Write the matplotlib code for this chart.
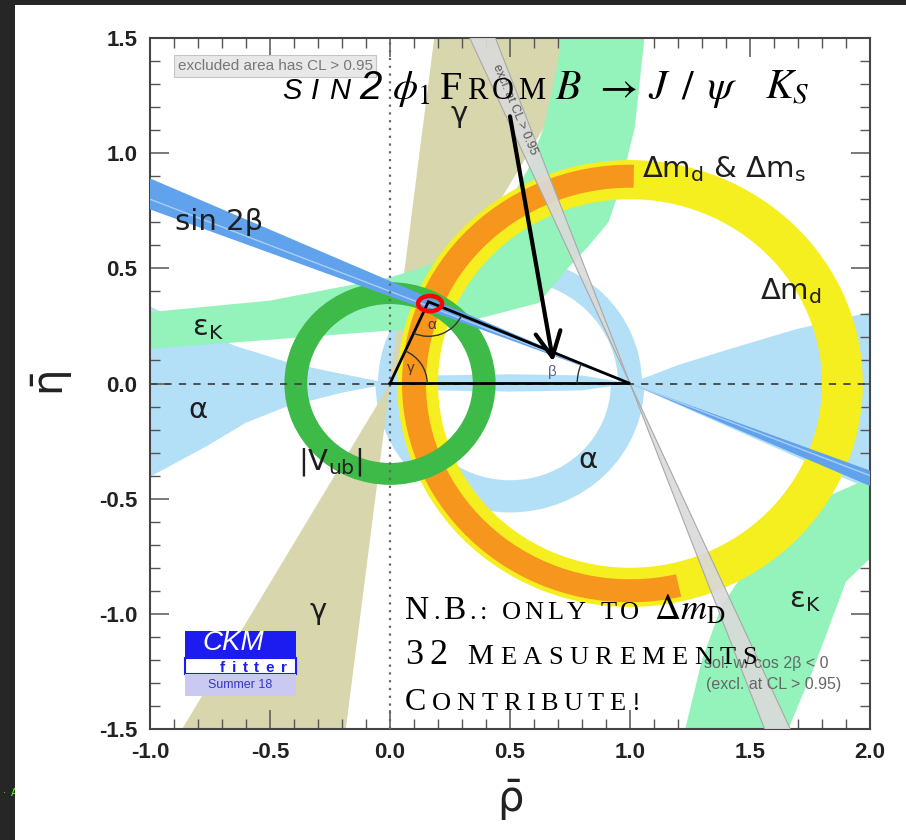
import matplotlib
matplotlib.use("Agg")
import numpy as np
import matplotlib.pyplot as plt
from matplotlib.patches import Arc, Ellipse, Polygon, Rectangle, Wedge

plt.rcParams["font.family"] = ["Liberation Sans", "DejaVu Sans"]
plt.rcParams["mathtext.fontset"] = "custom"
plt.rcParams["mathtext.rm"] = "DejaVu Sans"
plt.rcParams["mathtext.it"] = "DejaVu Sans:italic"
plt.rcParams["mathtext.bf"] = "DejaVu Sans:bold"

x_ticks = [-1.0, -0.5, 0.0, 0.5, 1.0, 1.5, 2.0]
y_ticks = [-1.5, -1.0, -0.5, 0.0, 0.5, 1.0, 1.5]

apex = (0.16, 0.355)

# angular bands: vertex and angle range in degrees
gamma_vertex, gamma_angles = (0.0, 0.0), (60.0, 83.0)
excl_vertex, excl_angles = (1.0, 0.0), (110.5, 114.0)
sin2b_vertex, sin2b_angles = (1.0, 0.0), (156.0, 159.3)
sin2b_split = 158.2

# ring bands: centre, (inner, outer) radius
vub_center, vub_radii = (0.0, 0.0), (0.345, 0.44)
dmd_center, dmd_radii = (1.0, 0.0), (0.80, 0.97)
dms_center, dms_radii, dms_angles = (1.0, 0.0), (0.85, 0.95), (89.0, 283.0)
alpha_center = (0.5, 0.0)
alpha_up_radii, alpha_low_radii = (0.45, 0.55), (0.42, 0.56)

# free-form contours
alpha_left_rho = [-1.0, -0.85, -0.65, -0.42, -0.24, 0.0, -0.2, -0.43, -0.6, -0.76, -1.0]
alpha_left_eta = [0.335, 0.26, 0.165, 0.09, 0.05, 0.0, -0.04, -0.10, -0.17, -0.27, -0.405]
alpha_right_rho = [1.0, 1.2, 1.41, 1.69, 2.0, 2.0]
alpha_right_eta = [0.0, 0.08, 0.148, 0.235, 0.31, -0.46]
alpha_axis_rho = [0.0, 0.2, 0.5, 0.8, 1.0, 0.8, 0.5, 0.2]
alpha_axis_eta = [0.0, 0.035, 0.04, 0.035, 0.0, -0.03, -0.035, -0.03]

epsk_up_rho = [-1.0, -0.5, 0.0, 0.15, 0.3, 0.45, 0.575, 0.64, 0.70, 0.71,
               1.06, 1.02, 0.95, 0.91, 0.83, 0.74, 0.62, 0.4, 0.17, 0.0, -0.5, -1.0]
epsk_up_eta = [0.31, 0.36, 0.46, 0.51, 0.58, 0.71, 0.93, 1.11, 1.40, 1.5,
               1.5, 1.11, 0.82, 0.70, 0.60, 0.50, 0.35, 0.29, 0.235, 0.23, 0.19, 0.15]
epsk_low_rho = [1.23, 1.3, 1.38, 1.5, 1.65, 1.8, 2.0, 2.0, 1.9, 1.85, 1.76, 1.66]
epsk_low_eta = [-1.5, -1.2, -0.97, -0.78, -0.62, -0.5, -0.41, -0.76, -0.86, -1.0, -1.25, -1.5]

# band labels
label_text = ["sin 2β", "ε$_{\\rm K}$", "α", "|V$_{\\rm ub}$|", "α", "γ", "γ",
              "Δm$_{\\rm d}$ & Δm$_{\\rm s}$", "Δm$_{\\rm d}$", "ε$_{\\rm K}$"]
label_rho = [-0.71, -0.76, -0.80, -0.25, 0.825, 0.29, -0.30, 1.39, 1.67, 1.73]
label_eta = [0.70, 0.24, -0.115, -0.34, -0.333, 1.17, -0.987, 0.93, 0.40, -0.94]

arrow_tail = (0.50, 1.16)
arrow_tip = (0.68, 0.095)

c_alpha = "#b3e0f6"
c_gamma = "#d8d6ad"
c_epsk = "#93f3ba"
c_dmd = "#f5ef1f"
c_dms = "#f7961d"
c_vub = "#3dba47"
c_sin2b = "#60a3ec"
c_excl = "#dadada"


def draw_runs(ax, x0, x1, y, runs):
    """Write text pieces on one baseline, spread evenly from x0 to x1."""
    renderer = ax.figure.canvas.get_renderer()
    items = []
    for text, size, style in runs:
        pieces = [text] if text.startswith("$") else list(text)
        for piece in pieces:
            if piece == " ":
                items.append((None, 0.25 * size * ax.figure.dpi / 72))
                continue
            t = ax.annotate(piece, xy=(x0, y), xytext=(0, 0), textcoords="offset pixels",
                            fontsize=size, ha="left", va="baseline",
                            annotation_clip=False, zorder=12, **style)
            items.append((t, t.get_window_extent(renderer).width))
    span = ax.transData.transform((x1, y))[0] - ax.transData.transform((x0, y))[0]
    natural = sum(w for _, w in items)
    track = (span - natural) / max(len(items) - 1, 1)
    dx = 0.0
    for t, w in items:
        if t is not None:
            t.xyann = (dx, 0)
        dx += w + track


fig = plt.figure(figsize=(9.06, 8.40), dpi=100, facecolor="#262626")
fig.text(0.003, 0.052, "·  A", color="#66ff33", fontsize=7, zorder=-6)
fig.add_artist(Rectangle((15 / 906, 0), 1, 835 / 840, transform=fig.transFigure,
                         facecolor="white", edgecolor="none", zorder=-5))
ax = fig.add_axes([150 / 906, 111 / 840, 720 / 906, 691 / 840])
ax.set_xlim(-1.0, 2.0)
ax.set_ylim(-1.5, 1.5)

# alpha (light blue)
ax.add_patch(Wedge(alpha_center, alpha_up_radii[1], 0, 180,
                   width=alpha_up_radii[1] - alpha_up_radii[0], color=c_alpha, lw=0, zorder=1))
ax.add_patch(Wedge(alpha_center, alpha_low_radii[1], 180, 360,
                   width=alpha_low_radii[1] - alpha_low_radii[0], color=c_alpha, lw=0, zorder=1))
for rr, ee in [(alpha_left_rho, alpha_left_eta), (alpha_right_rho, alpha_right_eta),
               (alpha_axis_rho, alpha_axis_eta)]:
    ax.add_patch(Polygon(list(zip(rr, ee)), closed=True, color=c_alpha, lw=0, zorder=1))

# gamma
for off in (0, 180):
    ax.add_patch(Wedge(gamma_vertex, 5, gamma_angles[0] + off, gamma_angles[1] + off,
                       color=c_gamma, lw=0, zorder=1.5))

# epsilon_K
for rr, ee in [(epsk_up_rho, epsk_up_eta), (epsk_low_rho, epsk_low_eta)]:
    ax.add_patch(Polygon(list(zip(rr, ee)), closed=True, color=c_epsk, lw=0, zorder=2))

# Delta m_d and Delta m_d & Delta m_s
ax.add_patch(Wedge(dmd_center, dmd_radii[1], 0, 360, width=dmd_radii[1] - dmd_radii[0],
                   color=c_dmd, lw=0, zorder=3))
ax.add_patch(Wedge(dms_center, dms_radii[1], dms_angles[0], dms_angles[1],
                   width=dms_radii[1] - dms_radii[0], color=c_dms, lw=0, zorder=3.1))

# second sin2beta solution (excluded)
for off in (0, 180):
    ax.add_patch(Wedge(excl_vertex, 5, excl_angles[0] + off, excl_angles[1] + off,
                       facecolor=c_excl, edgecolor="none", alpha=0.92, zorder=3.5))
for ang in excl_angles:
    ax.axline(excl_vertex, slope=np.tan(np.radians(ang)), color="#a8a8a8", lw=0.8, zorder=3.6)

# |Vub|
ax.add_patch(Wedge(vub_center, vub_radii[1], 0, 360, width=vub_radii[1] - vub_radii[0],
                   color=c_vub, lw=0, zorder=4))

# sin 2beta
for off in (0, 180):
    ax.add_patch(Wedge(sin2b_vertex, 5, sin2b_angles[0] + off, sin2b_angles[1] + off,
                       color=c_sin2b, lw=0, zorder=5))
ax.axline(sin2b_vertex, slope=np.tan(np.radians(sin2b_split)), color="#a9cdf6", lw=1.0, zorder=5.1)

# reference axes lines
ax.axhline(0, color="#444444", lw=1.3, ls=(0, (4, 4)), zorder=6)
ax.axvline(0, color="#666666", lw=1.6, ls=(0, (1, 2.5)), zorder=6)

# unitarity triangle
ax.plot([0, apex[0], 1, 0], [0, apex[1], 0, 0], color="black", lw=2.0, zorder=7,
        solid_joinstyle="miter")
a_to_o = np.degrees(np.arctan2(-apex[1], -apex[0]))
a_to_1 = np.degrees(np.arctan2(-apex[1], 1 - apex[0]))
o_to_a = np.degrees(np.arctan2(apex[1], apex[0]))
one_to_a = np.degrees(np.arctan2(apex[1], apex[0] - 1))
ax.add_patch(Arc(apex, 0.30, 0.30, theta1=a_to_o, theta2=a_to_1, color="#333333", lw=1.0, zorder=7))
ax.add_patch(Arc((0, 0), 0.31, 0.31, theta1=0, theta2=o_to_a, color="#333333", lw=1.0, zorder=7))
ax.add_patch(Arc((1, 0), 0.44, 0.44, theta1=one_to_a, theta2=180, color="#333333", lw=1.0, zorder=7))
ax.text(0.175, 0.256, "α", fontsize=11, color="#553333", ha="center", va="center", zorder=8)
ax.text(0.085, 0.068, "γ", fontsize=11, color="#553333", ha="center", va="center", zorder=8)
ax.text(0.675, 0.05, "β", fontsize=11, color="#556688", ha="center", va="center", zorder=8)

ax.add_patch(Ellipse((0.167, 0.347), 0.10, 0.066, fill=False, edgecolor="red", lw=3.2, zorder=9))

# band labels
for txt, r, e in zip(label_text, label_rho, label_eta):
    ax.text(r, e, txt, fontsize=21, family="DejaVu Sans", color="#1e1e1e",
            ha="center", va="center", zorder=8)

# grey annotations of the original plot
ax.text(-0.885, 1.378, "excluded area has CL > 0.95", fontsize=11, color="#777777",
        ha="left", va="center", zorder=8,
        bbox=dict(boxstyle="square,pad=0.25", facecolor="#e8e8e8", edgecolor="#c4c4c4", lw=0.8))
ax.text(0.52, 1.19, "excl. at CL > 0.95", fontsize=9, color="#555555", rotation=-67,
        ha="center", va="center", zorder=8)
ax.text(1.567, -1.215, "sol. w/ cos 2β < 0", fontsize=11.5, color="#666666",
        ha="center", va="center", zorder=8)
ax.text(1.60, -1.306, "(excl. at CL > 0.95)", fontsize=11.5, color="#666666",
        ha="center", va="center", zorder=8)

# CKMfitter logo
ax.add_patch(Rectangle((-0.854, -1.193), 0.462, 0.118, facecolor="#1c1cf0", edgecolor="none", zorder=8))
ax.add_patch(Rectangle((-0.854, -1.263), 0.462, 0.070, facecolor="white", edgecolor="#1c1cf0",
                       lw=1.5, zorder=8))
ax.add_patch(Rectangle((-0.854, -1.355), 0.462, 0.092, facecolor="#c9c9f2", edgecolor="none", zorder=8))
ax.text(-0.654, -1.127, "CKM", fontsize=20, style="italic", color="white",
        ha="center", va="center", zorder=9)
ax.text(-0.625, -1.309, "Summer 18", fontsize=9, color="#3535c8", ha="center", va="center", zorder=9)
draw_runs(ax, -0.708, -0.43, -1.254, [("fitter", 11, {"color": "#1c1cf0", "fontweight": "bold"})])

# slide overlay: arrow, title and note
ax.annotate("", xy=arrow_tip, xytext=arrow_tail, zorder=11,
            arrowprops=dict(arrowstyle="->,head_length=0.9,head_width=0.45", lw=3,
                            color="black", mutation_scale=20, shrinkA=0, shrinkB=0))

sans_it = {"family": "Liberation Sans", "style": "italic", "color": "black"}
serif = {"family": "Liberation Serif", "color": "black"}
stix = {"math_fontfamily": "stix", "color": "black"}
title_y = 1.236
draw_runs(ax, -0.45, 0.167, title_y, [
    ("SIN", 21, sans_it), ("2", 29, sans_it), (r"$\phi_{\mathit{1}}$", 29, stix)])
draw_runs(ax, 0.208, 0.646, title_y, [("F", 29, serif), ("ROM", 22, serif)])
draw_runs(ax, 0.6875, 1.75, title_y, [
    ("$B$", 30, stix), (r"$\rightarrow$", 30, stix), ("$J$", 30, stix), ("$/$", 30, stix),
    (r"$\psi$", 30, stix), (" ", 20, {}), ("$K_S$", 30, stix)])

nb_font = {"family": "Liberation Serif", "color": "black"}
draw_runs(ax, 0.063, 1.396, -1.023, [
    ("N", 24, nb_font), (".", 19, nb_font), ("B", 24, nb_font), (".:", 19, nb_font),
    (" ", 19, {}), ("ONLY", 19, nb_font), (" ", 19, {}), ("TO", 19, nb_font),
    (" ", 19, {}), (r"$\Delta m_{\rm D}$", 26, stix)])
draw_runs(ax, 0.063, 1.529, -1.219, [
    ("32", 26, nb_font), (" ", 19, {}), ("M", 21, nb_font), ("EASUREMENTS", 19, nb_font)])
draw_runs(ax, 0.063, 1.042, -1.417, [("C", 23, nb_font), ("ONTRIBUTE!", 19, nb_font)])

# axes, ticks and labels
ax.set_xticks(x_ticks)
ax.set_yticks(y_ticks)
ax.set_xticks(np.arange(-1.0, 2.01, 0.1), minor=True)
ax.set_yticks(np.arange(-1.5, 1.51, 0.1), minor=True)
ax.set_xticklabels([f"{v:.1f}" for v in x_ticks], fontweight="bold", color="#222222")
ax.set_yticklabels([f"{v:.1f}" for v in y_ticks], fontweight="bold", color="#222222")
ax.tick_params(which="both", direction="in", top=True, right=True, color="#555555")
ax.tick_params(which="major", length=14, width=1.1, labelsize=16, pad=9)
ax.tick_params(which="minor", length=7, width=1.0)
for sp in ax.spines.values():
    sp.set_color("#444444")
    sp.set_linewidth(1.5)

ax.text(0.5, -0.103, r"$\bar{\mathrm{\rho}}$", transform=ax.transAxes, fontsize=30,
        ha="center", va="center", color="#222222")
ax.text(-0.136, 0.5, r"$\bar{\mathrm{\eta}}$", transform=ax.transAxes, fontsize=30,
        rotation=90, ha="center", va="center", color="#222222")

fig.savefig("out.png", dpi=100, facecolor=fig.get_facecolor())
